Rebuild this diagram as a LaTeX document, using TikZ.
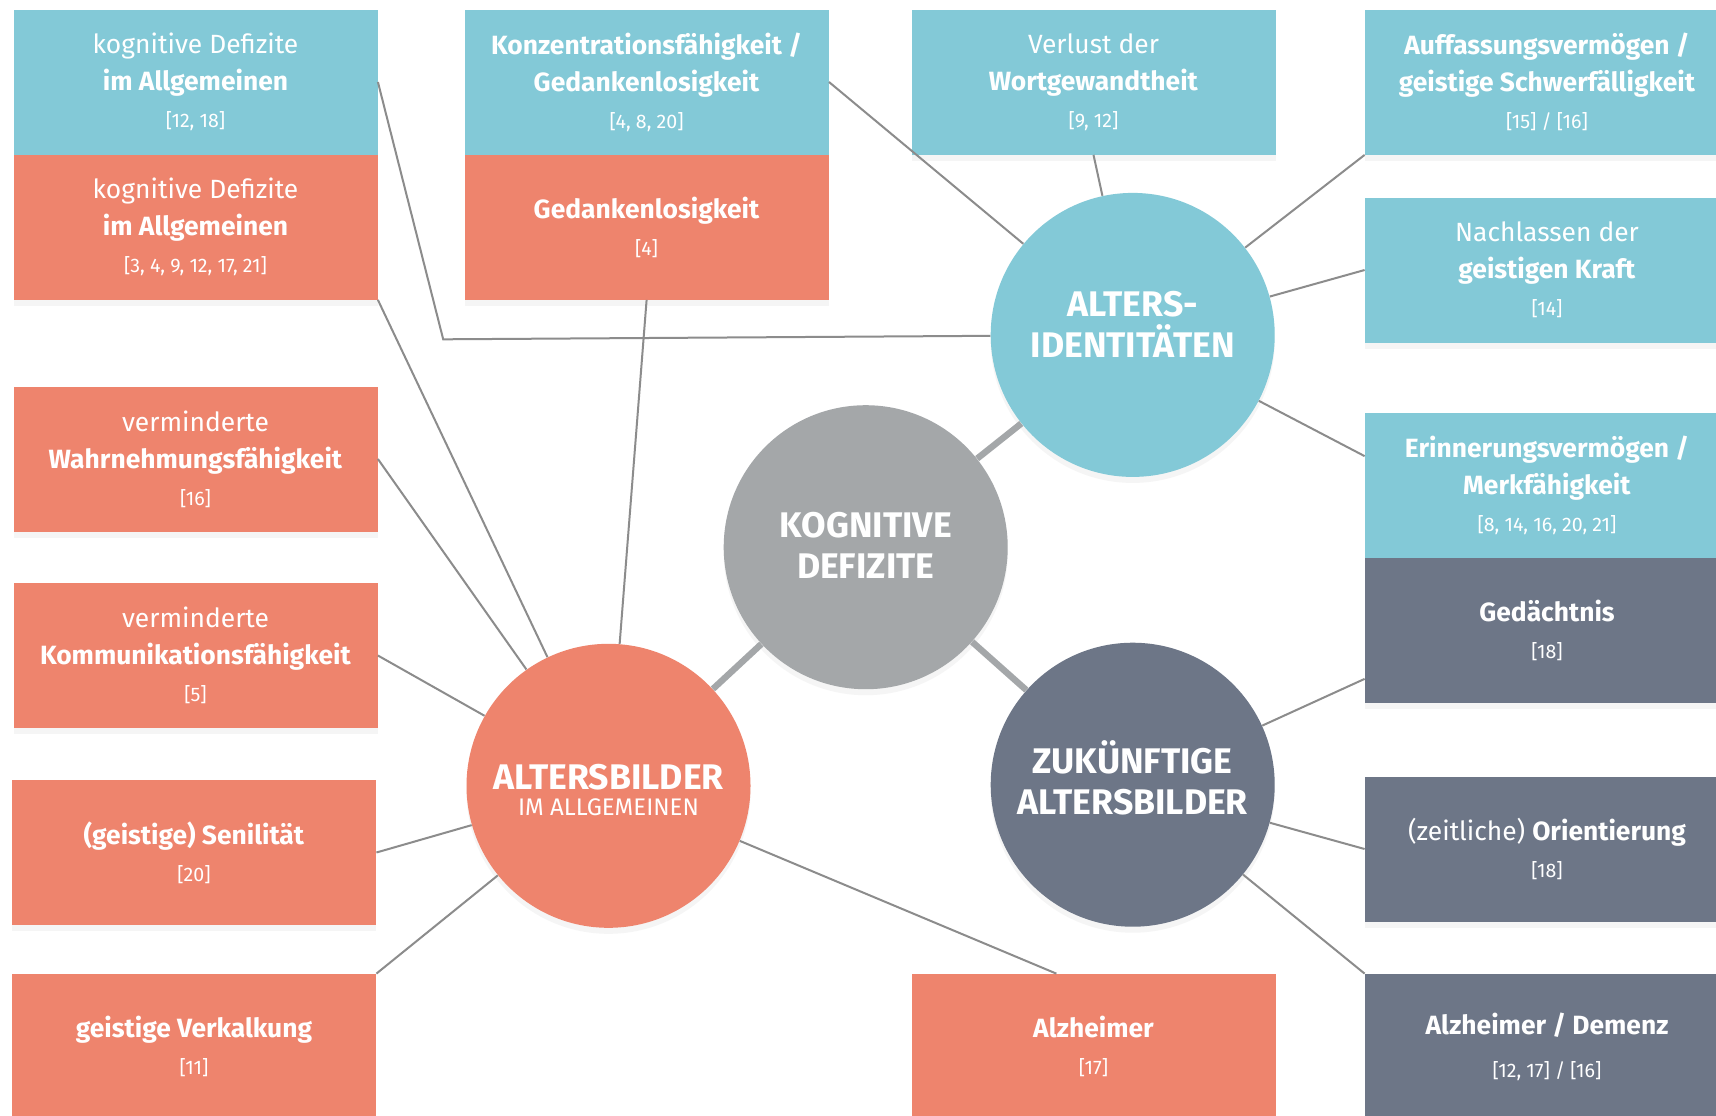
\documentclass[tikz,border=0pt]{standalone}
\usepackage{fontspec}
\setmainfont{Fira Sans}
\usetikzlibrary{shadows}

\definecolor{tealish}{HTML}{83C9D7}
\definecolor{salmon}{HTML}{EE846D}
\definecolor{slate}{HTML}{6D7687}
\definecolor{stone}{HTML}{A4A7A9}
\definecolor{wire}{HTML}{8C8C8C}

\newcommand{\refs}[1]{{\fontsize{9.8}{11}\selectfont #1}}

\tikzset{
  card/.style={rectangle, inner sep=0pt, minimum width=182pt, minimum height=72.5pt,
    text=white, align=center, font=\fontsize{13.2}{18.5}\selectfont,
    drop shadow={shadow xshift=0pt, shadow yshift=-3pt, opacity=.08}},
  bluecard/.style={card, fill=tealish},
  redcard/.style={card, fill=salmon},
  slatecard/.style={card, fill=slate},
  hub/.style={circle, inner sep=0pt, minimum size=142pt, text=white, align=center,
    font=\bfseries\fontsize{17.8}{20.5}\selectfont,
    drop shadow={shadow xshift=0pt, shadow yshift=-3pt, opacity=.08}},
  link/.style={draw=wire, line width=1pt},
  spoke/.style={draw=stone, line width=3.2pt},
}

\begin{document}
\begin{tikzpicture}[x=0.5pt, y=-0.5pt]
  \useasboundingbox[fill=white] (0,0) rectangle (1716,1115);
  \clip (0,0) rectangle (1716,1115);

  % centre and the three hubs
  \node[hub, fill=stone] (kog) at (865.7,547.2) {KOGNITIVE\\DEFIZITE\\[-19pt]\mbox{}};
  \node[hub, fill=tealish] (ident) at (1132.7,334.9) {ALTERS-\\IDENTITÄTEN\\[-10pt]\mbox{}};
  \node[hub, fill=salmon] (bild) at (608.5,785.8)
    {\mbox{}\\[-3.4pt]ALTERSBILDER\\[-7.5pt]{\mdseries\fontsize{12}{13}\selectfont IM ALLGEMEINEN}};
  \node[hub, fill=slate] (zuk) at (1132.7,784.7) {ZUKÜNFTIGE\\ALTERSBILDER\\[-13pt]\mbox{}};

  \draw[spoke] (kog) -- (ident);
  \draw[spoke] (kog) -- (bild);
  \draw[spoke] (kog) -- (zuk);

  % left column
  \node[bluecard] (kdb) at (195.5,82) {kognitive Defizite\\\textbf{im Allgemeinen}\\\refs{[12, 18]}};
  \node[redcard] (kdr) at (195.5,227) {kognitive Defizite\\\textbf{im Allgemeinen}\\\refs{[3, 4, 9, 12, 17, 21]}};
  \node[redcard] (wahr) at (195.5,459) {verminderte\\\textbf{Wahrnehmungsfähigkeit}\\\refs{[16]}};
  \node[redcard] (komm) at (195.5,655.5) {verminderte\\\textbf{Kommunikationsfähigkeit}\\\refs{[5]}};
  \node[redcard] (senil) at (194,852.5) {\textbf{(geistige) Senilität}\\\refs{[20]}};
  \node[redcard] (verk) at (194,1046.5) {\textbf{geistige Verkalkung}\\\refs{[11]}};

  % top middle
  \node[bluecard] (konz) at (646.6,82) {\textbf{Konzentrationsfähigkeit /}\\\textbf{Gedankenlosigkeit}\\\refs{[4, 8, 20]}};
  \node[redcard] (gedl) at (646.6,227) {\textbf{Gedankenlosigkeit}\\\refs{[4]}};
  \node[bluecard] (wort) at (1093.5,82) {Verlust der\\\textbf{Wortgewandtheit}\\\refs{[9, 12]}};

  % right column
  \node[bluecard] (auff) at (1547,82) {\textbf{Auffassungsvermögen /}\\\textbf{geistige Schwerfälligkeit}\\\refs{[15] / [16]}};
  \node[bluecard] (kraft) at (1547,270) {Nachlassen der\\\textbf{geistigen Kraft}\\\refs{[14]}};
  \node[bluecard] (erin) at (1547,485) {\textbf{Erinnerungsvermögen /}\\\textbf{Merkfähigkeit}\\\refs{[8, 14, 16, 20, 21]}};
  \node[slatecard] (gedae) at (1547,630) {\textbf{Gedächtnis}\\\refs{[18]}};
  \node[slatecard] (orient) at (1547,849) {(zeitliche) \textbf{Orientierung}\\\refs{[18]}};
  \node[slatecard] (demenz) at (1547,1046.5) {\textbf{Alzheimer / Demenz}\\[3pt]\refs{[12, 17] / [16]}};

  % bottom middle
  \node[redcard] (alz) at (1093.5,1046.5) {\textbf{Alzheimer}\\\refs{[17]}};

  % thin links
  \coordinate (knick) at (443.2,339.3);
  \draw[link] (kdb.east) -- (knick) -- (ident);
  \foreach \a/\b in {kdr.south east/bild, wahr.east/bild, komm.east/bild, senil.east/bild,
      verk.north east/bild, gedl.south/bild, alz.117/bild,
      konz.east/ident, wort.south/ident, auff.south west/ident, kraft.west/ident, erin.171/ident,
      gedae.195/zuk, orient.west/zuk, demenz.north west/zuk}
    \draw[link] (\a) -- (\b);
\end{tikzpicture}
\end{document}
